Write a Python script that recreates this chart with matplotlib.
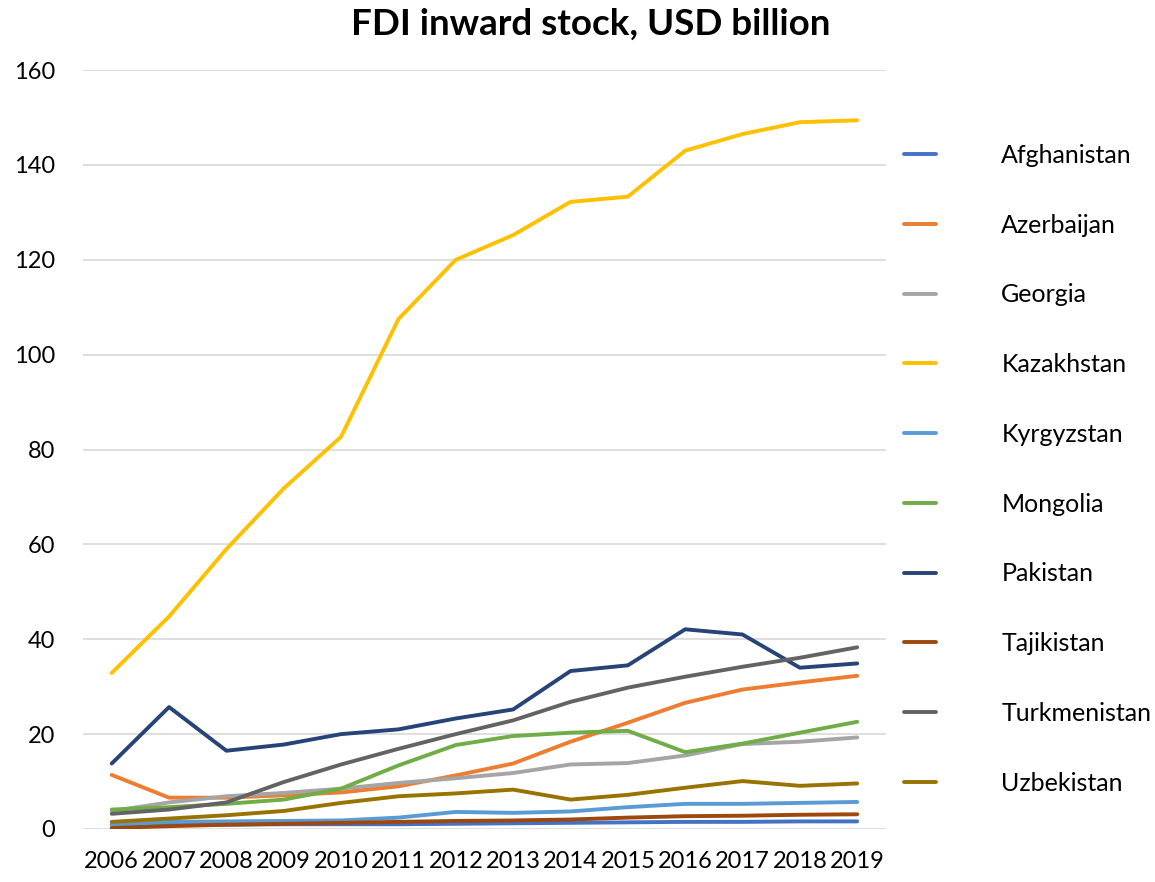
import matplotlib
matplotlib.use("Agg")
import matplotlib.pyplot as plt

years = list(range(2006, 2020))
afghanistan = [0.9, 0.9, 0.9, 1.0, 1.0, 1.0, 1.1, 1.2, 1.3, 1.4, 1.5, 1.5, 1.6, 1.6]
azerbaijan = [11.4, 6.6, 6.6, 7.1, 7.7, 9.0, 11.3, 13.8, 18.4, 22.4, 26.6, 29.4, 30.9, 32.3]
georgia = [3.8, 5.6, 6.9, 7.6, 8.5, 9.7, 10.7, 11.8, 13.6, 13.9, 15.5, 17.9, 18.4, 19.3]
kazakhstan = [32.9, 44.8, 59.0, 71.8, 82.7, 107.5, 120.0, 125.2, 132.2, 133.3, 143.0, 146.5, 149.0, 149.4]
kyrgyzstan = [0.8, 1.5, 1.6, 1.7, 1.8, 2.4, 3.6, 3.4, 3.7, 4.6, 5.3, 5.3, 5.5, 5.7]
mongolia = [4.1, 4.6, 5.3, 6.2, 8.5, 13.4, 17.7, 19.6, 20.3, 20.7, 16.2, 18.0, 20.3, 22.6]
pakistan = [13.8, 25.7, 16.5, 17.8, 20.0, 21.0, 23.3, 25.2, 33.3, 34.5, 42.1, 41.0, 34.0, 34.9]
tajikistan = [0.2, 0.6, 0.9, 1.1, 1.3, 1.5, 1.7, 1.8, 2.0, 2.4, 2.7, 2.8, 3.0, 3.1]
turkmenistan = [3.2, 4.1, 5.6, 9.9, 13.6, 16.9, 20.0, 22.9, 26.8, 29.8, 32.1, 34.2, 36.1, 38.3]
uzbekistan = [1.5, 2.2, 2.9, 3.8, 5.5, 6.9, 7.5, 8.3, 6.2, 7.2, 8.7, 10.1, 9.1, 9.6]

series = [
    ("Afghanistan", afghanistan, "#4472C4"),
    ("Azerbaijan", azerbaijan, "#ED7D31"),
    ("Georgia", georgia, "#A5A5A5"),
    ("Kazakhstan", kazakhstan, "#FFC000"),
    ("Kyrgyzstan", kyrgyzstan, "#5B9BD5"),
    ("Mongolia", mongolia, "#70AD47"),
    ("Pakistan", pakistan, "#264478"),
    ("Tajikistan", tajikistan, "#9E480E"),
    ("Turkmenistan", turkmenistan, "#636363"),
    ("Uzbekistan", uzbekistan, "#997300"),
]

plt.rcParams['font.family'] = ['Lato', 'DejaVu Sans']

fig = plt.figure(figsize=(11.55, 8.82), dpi=100)
ax = fig.add_axes([0.0719, 0.0601, 0.6951, 0.8605])

for name, vals, color in series:
    ax.plot(years, vals, color=color, lw=2.8, label=name, solid_capstyle='round')

ax.set_xlim(2005.5, 2019.5)
ax.set_ylim(0, 160)
ax.set_yticks(range(0, 161, 20))
ax.set_xticks(years)
ax.set_xticklabels([str(y) for y in years])
ax.grid(axis='y', color='#D9D9D9', lw=1.2)
ax.set_axisbelow(True)
for s in ax.spines.values():
    s.set_visible(False)
ax.tick_params(axis='both', length=0, labelsize=17, colors='black')
ax.tick_params(axis='x', pad=16)
ax.tick_params(axis='y', pad=20)

fig.text(0.511, 0.972, "FDI inward stock, USD billion", ha='center', va='center',
         fontsize=26.5, fontweight='bold')

leg = fig.legend(loc='upper left', bbox_to_anchor=(0.783, 0.837), frameon=False,
                 fontsize=18, labelspacing=1.87, handlelength=1.28, handletextpad=2.6,
                 borderaxespad=0, borderpad=0)

fig.savefig("out.png", dpi=100)
